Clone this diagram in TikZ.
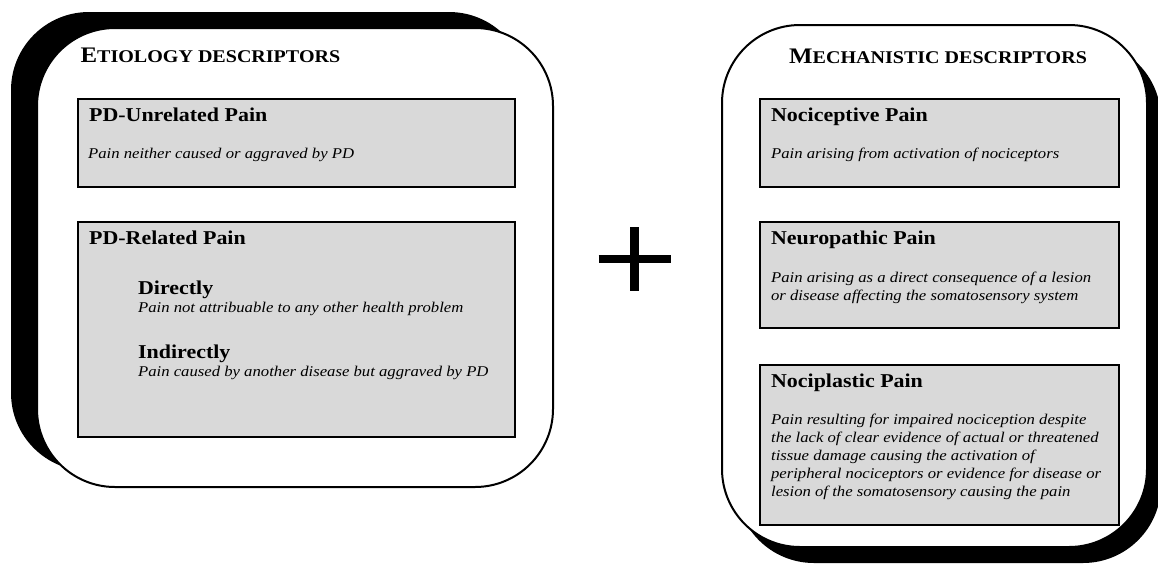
\documentclass[tikz,border=0pt]{standalone}
\usepackage{fontspec}
\setmainfont{Liberation Serif}[FakeStretch=1.12]
\usetikzlibrary{positioning,shadows}
\definecolor{boxgray}{HTML}{D9D9D9}

% fake small caps for the two panel titles
\newcommand{\panelsc}[2]{{\fontsize{22.2}{24}\selectfont #1}{\fontsize{17.9}{20}\selectfont #2}}

\begin{document}
\begin{tikzpicture}[x=1pt, y=-1pt,
  panel/.style={draw, line width=2pt, fill=white, rounded corners=78pt, inner sep=0pt},
  item/.style={draw, line width=2.2pt, fill=boxgray, inner sep=0pt},
  ttl/.style={font=\bfseries, inner sep=0pt, anchor=base west},
  hdr/.style={font=\fontsize{19.6}{22}\selectfont\bfseries, inner sep=0pt},
  desc/.style={font=\fontsize{14.9}{17.8}\selectfont\itshape, inner sep=0pt, align=left},
  plusbar/.style={line width=8.5pt}]
  \useasboundingbox (0,0) rectangle (1158,563);

  % panels
  \node[panel, minimum width=516pt, minimum height=459pt,
        drop shadow={shadow xshift=-26pt, shadow yshift=16pt, fill=black, opacity=1}]
        (etio) at (295,257.5) {};
  \node[panel, minimum width=425pt, minimum height=522pt,
        drop shadow={shadow xshift=14pt, shadow yshift=-16pt, fill=black, opacity=1}]
        (mech) at (934.5,286) {};

  \node[ttl] (etiottl) at (80.4,62.7) {\panelsc{E}{TIOLOGY DESCRIPTORS}};
  \node[ttl] (mechttl) at (789,63.3) {\panelsc{M}{ECHANISTIC DESCRIPTORS}};

  % etiology boxes
  \node[item, minimum width=437pt, minimum height=88pt]  (unrel) at (296.5,143)   {};
  \node[item, minimum width=437pt, minimum height=215pt] (rel)   at (296.5,329.5) {};

  \node[hdr, below right=24pt and 12pt of unrel.north west, anchor=base west] (unrelhd) {PD-Unrelated Pain};
  \node[desc, below right=60.5pt and 11pt of unrel.north west, anchor=base west] (unreltx) {Pain neither caused or aggraved by PD};

  \node[hdr, below right=24pt and 12pt of rel.north west, anchor=base west] (relhd) {PD-Related Pain};
  \node[hdr, below right=74pt and 61pt of rel.north west, anchor=base west] (dirhd) {Directly};
  \node[desc, below right=92pt and 61pt of rel.north west, anchor=base west] (dirtx) {Pain not attribuable to any other health problem};
  \node[hdr, below right=138pt and 61pt of rel.north west, anchor=base west] (indhd) {Indirectly};
  \node[desc, below right=156pt and 61pt of rel.north west, anchor=base west] (indtx) {Pain caused by another disease but aggraved by PD};

  % mechanistic boxes
  \node[item, minimum width=359pt, minimum height=88pt]  (noci)  at (939.5,143) {};
  \node[item, minimum width=359pt, minimum height=106pt] (neuro) at (939.5,275) {};
  \node[item, minimum width=359pt, minimum height=160pt] (plast) at (939.5,445) {};

  \node[hdr, below right=24pt and 12pt of noci.north west, anchor=base west] (nocihd) {Nociceptive Pain};
  \node[desc, below right=60.5pt and 12pt of noci.north west, anchor=base west] (nocitx) {Pain arising from activation of nociceptors};

  % multi-line texts: base is the last line
  \node[hdr, below right=24pt and 12pt of neuro.north west, anchor=base west] (neurohd) {Neuropathic Pain};
  \node[desc, below right=79.8pt and 12pt of neuro.north west, anchor=base west] (neurotx)
    {Pain arising as a direct consequence of a lesion\\or disease affecting the somatosensory system};

  \node[hdr, below right=24pt and 12pt of plast.north west, anchor=base west] (plasthd) {Nociplastic Pain};
  \node[desc, below right=132.2pt and 12pt of plast.north west, anchor=base west] (plasttx)
    {Pain resulting for impaired nociception despite\\the lack of clear evidence of actual or threatened\\tissue damage causing the activation of\\peripheral nociceptors or evidence for disease or\\lesion of the somatosensory causing the pain};

  % plus sign
  \coordinate (plus) at (634.5,259);
  \draw[plusbar] ([xshift=-36pt]plus) -- ([xshift=36pt]plus);
  \draw[plusbar] ([yshift=32pt]plus) -- ([yshift=-32pt]plus);
\end{tikzpicture}
\end{document}
